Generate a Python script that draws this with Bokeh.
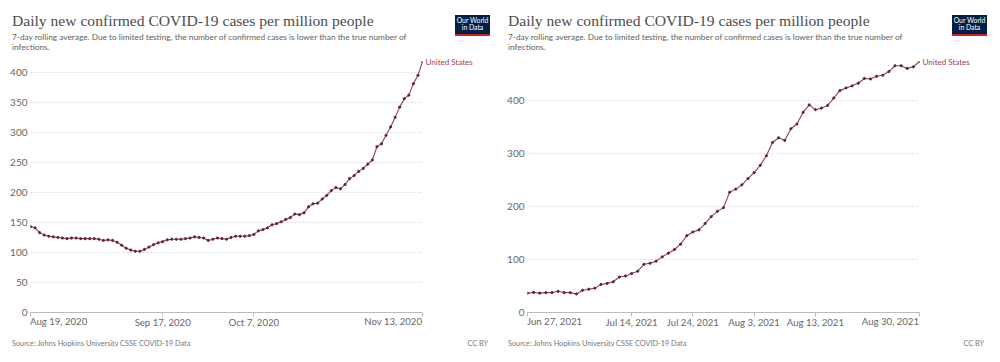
import pandas as pd
from bokeh.plotting import figure
from bokeh.models import Range1d, FixedTicker, LinearAxis, Div
from bokeh.layouts import row, column
from bokeh.embed import file_html
from bokeh.resources import INLINE

TITLE = "Daily new confirmed COVID-19 cases per million people"
SUB1 = "7-day rolling average. Due to limited testing, the number of confirmed cases is lower than the true number of"
SUB2 = "infections."
SOURCE = "Source: Johns Hopkins University CSSE COVID-19 Data"
LICENSE = "CC BY"
SERIES = "United States"
LOGO1, LOGO2 = "Our World", "in Data"

# ---- 2020 panel ----
start_2020 = "2020-08-19"
cases_2020 = [143, 141, 133, 129, 127, 126, 125, 124, 123, 124,
              124, 123, 123, 123, 123, 122, 120, 121, 120, 117,
              112, 107, 104, 102, 102, 105, 109, 113, 116, 118,
              121, 122, 122, 122, 123, 124, 126, 125, 124, 120,
              122, 124, 123, 122, 125, 127, 127, 127, 128, 130,
              136, 138, 141, 146, 148, 151, 155, 158, 164, 163,
              166, 176, 181, 182, 189, 195, 203, 208, 206, 213,
              223, 228, 235, 240, 247, 254, 276, 281, 295, 309,
              325, 342, 356, 362, 381, 395, 418]
xticks_2020 = ["2020-08-19", "2020-09-17", "2020-10-07", "2020-11-13"]
xtick_labels_2020 = ["Aug 19, 2020", "Sep 17, 2020", "Oct 7, 2020", "Nov 13, 2020"]
yticks_2020 = [0, 50, 100, 150, 200, 250, 300, 350, 400]

# ---- 2021 panel ----
start_2021 = "2021-06-27"
cases_2021 = [36.5, 38, 36.5, 37.5, 37.5, 40, 37.5, 37.5, 35, 42,
              44, 46, 53, 55, 58, 67, 69, 73.5, 78, 91,
              93, 97, 105, 112, 119, 129, 145, 152, 156, 168,
              181, 191, 198, 227, 233, 241, 253, 264, 278, 296,
              321, 330, 325, 347, 356, 378, 392, 383, 386, 391,
              405, 419, 424, 428, 433, 442, 441, 446, 448, 455,
              466, 466, 461, 464, 474]
xticks_2021 = ["2021-06-27", "2021-07-14", "2021-07-24", "2021-08-03", "2021-08-13", "2021-08-30"]
xtick_labels_2021 = ["Jun 27, 2021", "Jul 14, 2021", "Jul 24, 2021", "Aug 3, 2021", "Aug 13, 2021", "Aug 30, 2021"]
yticks_2021 = [0, 100, 200, 300, 400]

LINE_COLOR = "#96414f"
DOT_COLOR = "#5e2530"
LABEL_COLOR = "#a3404f"
TEXT_GRAY = "#666666"
FONT = "Lato"
W = 500
HEAD_H, FIG_H, FOOT_H = 55, 277, 30
MB_TOP, MB_BOTTOM = 6, 20


def ms(d):
    return int(pd.Timestamp(d).value // 10**6)


def header(dx, logo_x):
    html = (
        f'<div style="position:relative;width:{W}px;height:{HEAD_H}px;">'
        f'<div style="position:absolute;left:{dx}px;top:11px;font-family:\'Liberation Serif\';'
        f'font-size:15.6px;line-height:20px;color:#4d4d4d;white-space:nowrap;">{TITLE}</div>'
        f'<div style="position:absolute;left:{dx}px;top:32px;font-family:Lato;font-size:8.3px;'
        f'line-height:10.3px;color:#626262;white-space:nowrap;">{SUB1}<br>{SUB2}</div>'
        f'<div style="position:absolute;left:{logo_x}px;top:15px;width:35px;height:17px;'
        f'background:#002147;border-bottom:2px solid #ce261e;color:#ffffff;font-family:Lato;'
        f'font-size:6.8px;line-height:7.4px;text-align:center;padding-top:1.5px;box-sizing:content-box;">'
        f'{LOGO1}<br>{LOGO2}</div>'
        '</div>'
    )
    return Div(text=html, width=W, height=HEAD_H, margin=0, styles={"overflow": "visible"})


def footer(dx, cc_right, frame_left, frame_right, first_label, last_label):
    lab = (f'position:absolute;top:-16px;font-family:Lato;font-size:9.6px;line-height:12px;'
           f'color:{TEXT_GRAY};white-space:nowrap;')
    html = (
        f'<div style="position:relative;width:{W}px;height:{FOOT_H}px;">'
        f'<div style="{lab}left:{frame_left}px;">{first_label}</div>'
        f'<div style="{lab}right:{W - frame_right}px;">{last_label}</div>'
        f'<div style="position:absolute;left:{dx}px;top:7px;font-family:Lato;font-size:7.3px;'
        f'line-height:10px;color:#777777;white-space:nowrap;">{SOURCE}</div>'
        f'<div style="position:absolute;right:{cc_right}px;top:7px;font-family:Lato;font-size:7.3px;'
        f'line-height:10px;color:#777777;white-space:nowrap;">{LICENSE}</div>'
        '</div>'
    )
    return Div(text=html, width=W, height=FOOT_H, margin=0, styles={"overflow": "visible"})


def panel(start, values, xticks, xlabels, yticks, min_left, min_right, dx, logo_x, cc_right):
    dates = pd.date_range(start, periods=len(values), freq="D")
    x0, x1 = ms(dates[0]), ms(dates[-1])
    p = figure(width=W, height=FIG_H, x_axis_type="datetime",
               x_range=Range1d(x0, x1), y_range=Range1d(0, max(values)),
               output_backend="svg", toolbar_location=None, title_location=None,
               min_border_left=min_left, min_border_right=min_right,
               min_border_top=MB_TOP, min_border_bottom=MB_BOTTOM)
    p.outline_line_color = None
    p.background_fill_color = "white"
    p.border_fill_color = "white"

    # x axis (edge labels are shown aligned inward in the footer, as in the original)
    tks = [ms(t) for t in xticks]
    p.xaxis.ticker = FixedTicker(ticks=tks)
    p.xaxis.major_label_overrides = {t: ("" if i in (0, len(tks) - 1) else lab)
                                     for i, (t, lab) in enumerate(zip(tks, xlabels))}
    p.xaxis.axis_line_color = "#bbbbbb"
    p.xaxis.major_tick_line_color = "#bbbbbb"
    p.xaxis.major_tick_out = 4
    p.xaxis.major_tick_in = 0
    p.xaxis.minor_tick_line_color = None
    p.xaxis.major_label_standoff = 0
    p.xaxis.major_label_text_font = FONT
    p.xaxis.major_label_text_font_size = "9.6px"
    p.xaxis.major_label_text_color = TEXT_GRAY

    # y axis
    p.yaxis.ticker = FixedTicker(ticks=yticks)
    p.yaxis.axis_line_color = None
    p.yaxis.major_tick_line_color = None
    p.yaxis.major_tick_out = 0
    p.yaxis.minor_tick_line_color = None
    p.yaxis.major_label_standoff = 3
    p.yaxis.major_label_text_font = FONT
    p.yaxis.major_label_text_font_size = "10px"
    p.yaxis.major_label_text_color = TEXT_GRAY

    p.xgrid.grid_line_color = None
    p.ygrid.ticker = FixedTicker(ticks=yticks)
    p.ygrid.grid_line_color = "#dddddd"
    p.ygrid.grid_line_dash = "2 2"

    p.line(dates, values, line_color=LINE_COLOR, line_width=1.1)
    p.scatter(dates, values, size=2.2, color=DOT_COLOR)

    # series label as a right-hand axis with a single tick at the last value
    last = values[-1]
    ax = LinearAxis(ticker=FixedTicker(ticks=[last]), major_label_overrides={last: SERIES},
                    axis_line_color=None, major_tick_line_color=None, major_tick_out=0,
                    major_tick_in=0, minor_tick_line_color=None, major_label_standoff=3,
                    major_label_text_font=FONT, major_label_text_font_size="8px",
                    major_label_text_color=LABEL_COLOR)
    p.add_layout(ax, "right")

    head = header(dx, logo_x)
    foot = footer(dx, cc_right, min_left, W - min_right, xlabels[0], xlabels[-1])
    return column(head, p, foot, spacing=0, margin=0)


c1 = panel(start_2020, cases_2020, xticks_2020, xtick_labels_2020, yticks_2020,
           30, 78, 12, 455, 12)
c2 = panel(start_2021, cases_2021, xticks_2021, xtick_labels_2021, yticks_2021,
           27, 81, 8, 452, 16)

layout = row(c1, c2, spacing=0, margin=0)
open("out.html", "w").write(file_html(layout, INLINE))
